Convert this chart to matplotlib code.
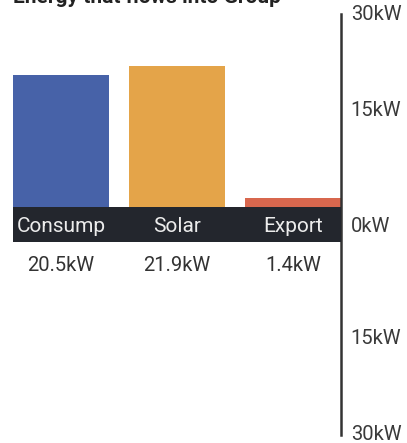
import matplotlib
matplotlib.use("Agg")
from matplotlib import pyplot as plt
from matplotlib.patches import Rectangle
import numpy as np

plt.rcParams['font.family'] = ['Roboto', 'DejaVu Sans']

categories = ['Consump', 'Solar', 'Export']
inflow_kw = [20.5, 21.9, 1.4]
value_labels = ['20.5kW', '21.9kW', '1.4kW']
bar_colors = ['#4762a8', '#e4a449', '#d8674e']
scale_max = 30
scale_ticks = [30, 15]

W, H = 407, 443
fig = plt.figure(figsize=(W / 100, H / 100), dpi=100)

# axes box in pixels: left 13, right 341, top 14, bottom 435
ax = fig.add_axes([13 / W, (H - 435) / H, (341 - 13) / W, (435 - 14) / H])

band = 35 / (193 / scale_max)  # height of the label band in kW units
ax.set_ylim(-(scale_max + band), scale_max)
ax.set_xlim(-0.416, len(categories) - 1 + 0.416)

x = np.arange(len(categories))
ax.bar(x, inflow_kw, width=0.83, color=bar_colors, zorder=2)

ax.add_patch(Rectangle((-0.416, -band), len(categories) - 1 + 0.832, band,
                       facecolor='#23262d', edgecolor='none', zorder=3))
for xi, name, val in zip(x, categories, value_labels):
    ax.text(xi, -band / 2 - 0.3, name, ha='center', va='center', color='#ececec',
            fontsize=15, zorder=4)
    ax.text(xi, -band - 3.7, val, ha='center', va='center', color='#333333',
            fontsize=14.5)

for s in ['top', 'left', 'bottom']:
    ax.spines[s].set_visible(False)
ax.spines['right'].set_color('#333333')
ax.spines['right'].set_linewidth(1.8)
ax.set_xticks([])
ax.yaxis.tick_right()
ticks = scale_ticks + [-band / 2 - 0.3] + [-(band + t) for t in scale_ticks[::-1]]
labels = ['%dkW' % t for t in scale_ticks] + ['0kW'] + ['%dkW' % t for t in scale_ticks[::-1]]
ax.set_yticks(ticks)
ax.set_yticklabels(labels)
ax.tick_params(axis='y', length=0, pad=7, labelsize=14.5, labelcolor='#3a3a3a')
for lbl in ax.get_yticklabels():
    lbl.set_verticalalignment('center')

fig.text(13 / W, 1 - 3 / H, 'Energy that flows into Group', fontsize=15,
         fontweight='bold', color='#222222', ha='left', va='baseline')

fig.savefig('out.png', dpi=100)
